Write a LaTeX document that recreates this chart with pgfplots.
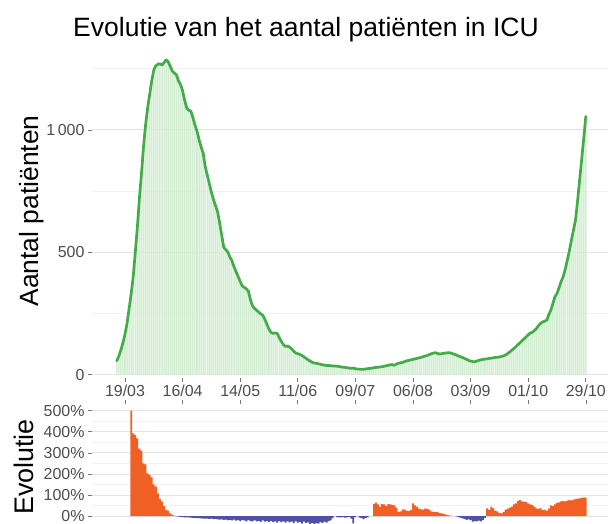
\documentclass[border=0pt]{standalone}
\usepackage{pgfplots}
\pgfplotsset{compat=1.18}
\usepackage{pgfplotstable}
\usepackage{fontspec}
\setmainfont{Liberation Sans}

\definecolor{linegreen}{RGB}{67,172,72}
\definecolor{bargreen}{RGB}{212,238,212}
\definecolor{evopos}{RGB}{240,95,35}
\definecolor{evoneg}{RGB}{80,80,165}
\definecolor{gridmaj}{RGB}{228,228,228}
\definecolor{gridmin}{RGB}{242,242,242}
\definecolor{ticktext}{RGB}{77,77,77}
\definecolor{tickmark}{RGB}{120,120,120}

% day 0 = 19/03
\pgfplotstableread{
d v
-4 56
-3 75
-2 100
-1 130
0 165
1 210
2 270
3 330
4 400
5 500
6 600
7 720
8 820
9 930
10 1020
11 1090
12 1145
13 1200
14 1245
15 1262
16 1268
17 1270
18 1265
19 1275
20 1286
21 1278
22 1260
23 1240
24 1232
25 1225
26 1200
27 1185
28 1160
29 1120
30 1090
31 1080
32 1077
33 1050
34 1020
35 995
36 960
37 930
38 905
39 850
40 815
41 780
42 745
43 715
44 690
45 665
46 620
47 570
48 520
49 510
50 500
51 480
52 465
53 440
54 420
55 400
56 380
57 362
58 356
59 350
60 340
61 305
62 280
63 270
64 262
65 255
66 248
67 242
68 225
69 205
70 185
71 172
72 168
73 170
74 168
75 150
76 135
77 122
78 115
79 116
80 112
81 105
82 95
83 88
84 85
85 82
86 78
87 72
88 66
89 60
90 55
91 50
92 47
93 46
94 44
95 42
96 40
97 38
98 37
99 37
100 36
101 35
102 35
103 34
104 33
105 31
106 30
107 29
108 28
109 26
110 25
111 26
112 24
113 22
114 22
115 21
116 21
117 23
118 24
119 25
120 26
121 28
122 29
123 30
124 31
125 32
126 34
127 36
128 38
129 40
130 40
131 38
132 43
133 46
134 48
135 50
136 53
137 56
138 58
139 60
140 62
141 64
142 66
143 68
144 70
145 73
146 76
147 78
148 82
149 85
150 88
151 89
152 86
153 84
154 85
155 87
156 88
157 89
158 89
159 86
160 83
161 80
162 76
163 73
164 70
165 66
166 62
167 58
168 55
169 53
170 52
171 55
172 58
173 60
174 62
175 63
176 64
177 66
178 67
179 68
180 70
181 70
182 72
183 74
184 76
185 80
186 86
187 92
188 99
189 106
190 114
191 122
192 130
193 138
194 146
195 154
196 162
197 170
198 172
199 180
200 188
201 200
202 209
203 215
204 218
205 222
206 245
207 263
208 290
209 318
210 331
211 355
212 380
213 399
214 430
215 467
216 505
217 549
218 590
219 631
220 710
221 794
222 880
223 965
224 1055
}\icu

\pgfplotstableread{
d e
3 500
4 392
5 385
6 369
7 320
8 310
9 250
10 245
11 202
12 195
13 184
14 150
15 140
16 108
17 80
18 70
19 47
20 30
21 25
22 13
23 6
24 2
25 -2
26 -3
27 -4
28 -5
29 -6
30 -6
31 -7
32 -8
33 -9
34 -9
35 -10
36 -10
37 -11
38 -12
39 -12
40 -13
41 -14
42 -13
43 -15
44 -14
45 -16
46 -17
47 -16
48 -18
49 -17
50 -19
51 -18
52 -21
53 -17
54 -22
55 -20
56 -24
57 -19
58 -21
59 -25
60 -20
61 -24
62 -26
63 -21
64 -25
65 -23
66 -28
67 -21
68 -27
69 -24
70 -29
71 -23
72 -28
73 -25
74 -31
75 -24
76 -29
77 -26
78 -32
79 -25
80 -30
81 -27
82 -33
83 -26
84 -31
85 -28
86 -36
87 -27
88 -33
89 -30
90 -38
91 -33
92 -40
93 -34
94 -36
95 -29
96 -33
97 -27
98 -31
99 -24
100 -21
101 -10
103 -5
104 -6
105 -7
106 -5
107 -8
108 -6
109 -4
110 -12
111 -35
112 -5
114 -8
115 -10
116 -15
117 -9
118 -6
121 58
122 63
123 55
124 45
125 57
126 55
127 48
128 56
129 55
130 52
131 50
132 40
133 20
134 22
135 32
136 30
137 25
138 24
139 28
140 60
141 50
142 44
143 35
144 32
145 30
146 36
147 34
148 30
149 22
150 20
151 18
152 20
153 14
154 12
155 10
156 6
157 4
158 2
159 1
161 -2
162 -5
163 -8
164 -11
165 -14
166 -18
167 -16
168 -20
169 -27
170 -24
171 -25
172 -22
173 -26
174 -20
175 -10
176 36
177 30
178 44
179 38
180 25
181 22
182 15
183 12
184 18
185 30
186 35
187 40
188 45
189 55
190 60
191 72
192 76
193 70
194 68
195 66
196 60
197 55
198 52
199 45
200 36
201 34
202 38
203 28
204 30
205 26
206 35
207 50
208 48
209 55
210 62
211 65
212 70
213 72
214 70
215 73
216 75
217 74
218 78
219 80
220 82
221 84
222 86
223 89
224 87
}\evo

\begin{document}
\begin{tikzpicture}[x=1bp,y=1bp]
\path[use as bounding box] (0,0) rectangle (608,-524);
\node[font=\fontsize{26.6}{30}\selectfont, anchor=base, inner sep=0pt] at (306,-36.8) {Evolutie van het aantal patiënten in ICU};

\begin{axis}[
  at={(92bp,-377.7bp)}, anchor=south west,
  scale only axis, width=516bp, height=333.5bp,
  xmin=-16.04, xmax=234.8, ymin=-13, ymax=1350,
  axis line style={draw=none},
  xtick pos=left, ytick pos=left,
  tick align=outside, major tick length=4bp, minor tick length=0bp,
  tick style={color=tickmark, line width=0.6bp},
  xtick={0,28,...,224},
  xticklabels={19/03,16/04,14/05,11/06,09/07,06/08,03/09,01/10,29/10},
  ytick={0,500,1000},
  yticklabels={0,500,1\,000},
  minor ytick={250,750,1250},
  ymajorgrids, yminorgrids,
  major grid style={color=gridmaj, line width=0.7bp},
  minor grid style={color=gridmin, line width=0.6bp},
  tick label style={font=\fontsize{16}{18}\selectfont, color=ticktext},
  ylabel={Aantal patiënten},
  ylabel style={font=\fontsize{26.5}{30}\selectfont, at={(axis description cs:-0.116,0.5)}, anchor=center},
  clip=false,
]
\addplot[ybar, bar shift=0pt, bar width=0.75, fill=bargreen, draw=none] table[x=d,y=v]{\icu};
\addplot[color=linegreen, line width=2.7bp, line join=round, line cap=round, mark=none] table[x=d,y=v]{\icu};
\end{axis}

\begin{axis}[
  at={(92bp,-524bp)}, anchor=south west,
  scale only axis, width=516bp, height=120bp,
  xmin=-16.04, xmax=234.8, ymin=-38, ymax=531.8,
  axis line style={draw=none},
  xtick pos=right, ytick pos=left,
  tick align=outside, major tick length=4bp, minor tick length=0bp,
  tick style={color=tickmark, line width=0.6bp},
  xtick={0,28,...,224},
  xticklabels={},
  ytick={0,100,...,500},
  yticklabels={0\%,100\%,200\%,300\%,400\%,500\%},
  minor ytick={50,150,...,450},
  ymajorgrids, yminorgrids,
  major grid style={color=gridmaj, line width=0.7bp},
  minor grid style={color=gridmin, line width=0.6bp},
  tick label style={font=\fontsize{16}{18}\selectfont, color=ticktext},
  ylabel={Evolutie},
  ylabel style={font=\fontsize{27}{30}\selectfont, at={(axis description cs:-0.132,0.475)}, anchor=center},
]
\addplot[ybar, bar shift=0pt, bar width=0.88, fill=evopos, draw=none, restrict y to domain=0:1000] table[x=d,y=e]{\evo};
\addplot[ybar, bar shift=0pt, bar width=0.88, fill=evoneg, draw=none, restrict y to domain=-1000:0] table[x=d,y=e]{\evo};
\end{axis}
\end{tikzpicture}
\end{document}
